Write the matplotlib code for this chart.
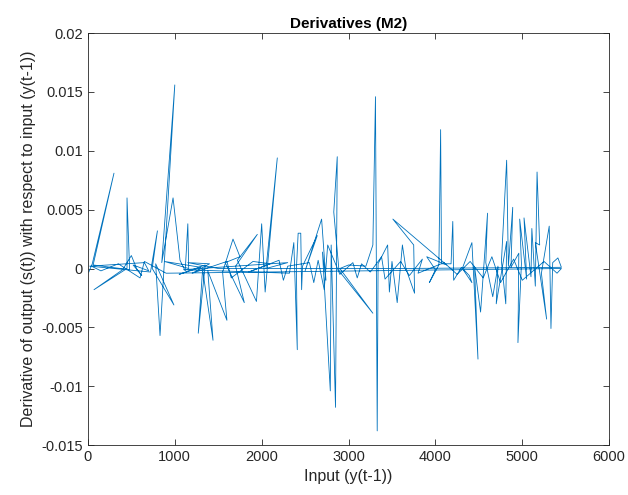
import matplotlib
matplotlib.use("Agg")
import matplotlib.pyplot as plt
from matplotlib.ticker import FormatStrFormatter

plt.rcParams['font.family'] = ['Liberation Sans', 'DejaVu Sans']
plt.rcParams['axes.unicode_minus'] = False

# values (input y(t-1), derivative)
x_input = [10, 50, 300, 60, 480, 450, 450, 70, 400, 500,
           560, 620, 520, 700, 650, 20, 720, 800, 740, 990,
           780, 830, 1000, 850, 980, 1060, 1120, 1150, 1160, 880,
           1300, 1050, 1350, 1270, 1320, 1440, 1380, 1600, 1550, 1670,
           1750, 1580, 1800, 1700, 1950, 1720, 1940, 2000, 2040, 2180,
           2050, 2300, 1100, 2320, 2370, 2410, 2400, 2420, 2450, 2460,
           2470, 2640, 2500, 2690, 2740, 2700, 2790, 2800, 2850, 2870,
           2830, 2890, 3280, 2900, 3000, 3200, 3280, 3310, 3330, 3340,
           3450, 3470, 3500, 3560, 3620, 3660, 3760, 3750, 3510, 4130,
           3900, 4000, 3930, 4040, 4060, 4070, 4180, 4200, 4210, 4300,
           4390, 4420, 4310, 4420, 4490, 4450, 4520, 4600, 4580, 4660,
           4720, 4700, 4820, 4810, 4760, 4820, 4840, 4890, 4870, 4960,
           4950, 4990, 4970, 5050, 5020, 5100, 5110, 5150, 5170, 5200,
           5150, 5280, 5220, 5310, 5330, 5350, 5410, 5450, 3600, 1500,
           1150, 1400, 1200, 1600, 1650, 1900, 2100, 1850, 2200, 2250,
           2300, 2550, 2600, 2650, 2720, 2760, 2900, 3050, 3100, 3150,
           3250, 3380, 3420, 3600, 3700, 3850, 3800, 4100, 4250, 4400,
           4550, 4650, 4750, 4900, 5000, 5250, 5400, 5450, 900, 650,
           600, 350, 150, 40]

deriv = [-0.0003, 0.0004, 0.0081, 0.0003, -0.0001, 0.0060, 0.0000, -0.0018, -0.0001, 0.0011,
         0.0000, -0.0006, 0.0003, -0.0002, 0.0005, 0.0002, -0.0003, 0.0032, 0.0000, -0.0031,
         0.0004, -0.0057, 0.0156, 0.0005, 0.0060, 0.0007, -0.0002, 0.0038, 0.0000, 0.0006,
         0.0001, -0.0005, 0.0003, -0.0055, -0.0001, -0.0061, -0.0002, -0.0044, -0.0003, 0.0025,
         0.0010, 0.0005, -0.0029, 0.0002, 0.0029, 0.0007, -0.0028, 0.0038, -0.0020, 0.0094,
         0.0000, 0.0005, -0.0001, -0.0004, 0.0022, -0.0069, 0.0000, 0.0030, 0.0030, -0.0018,
         0.0002, 0.0028, -0.0002, 0.0042, -0.0010, 0.0014, -0.0104, 0.0020, -0.0118, 0.0095,
         0.0048, -0.0002, -0.0038, 0.0000, 0.0003, 0.0002, 0.0020, 0.0146, -0.0138, 0.0004,
         0.0020, -0.0020, 0.0006, -0.0029, 0.0020, 0.0000, -0.0021, 0.0020, 0.0042, 0.0003,
         0.0010, -0.0001, -0.0012, 0.0003, 0.0118, 0.0004, 0.0004, 0.0040, -0.0010, 0.0001,
         -0.0006, -0.0012, 0.0000, 0.0022, -0.0077, 0.0002, -0.0037, 0.0047, 0.0005, -0.0024,
         0.0002, -0.0030, 0.0023, -0.0030, 0.0006, 0.0092, 0.0002, 0.0052, 0.0001, 0.0013,
         -0.0063, 0.0004, 0.0042, -0.0009, 0.0043, -0.0007, 0.0034, -0.0015, 0.0082, 0.0020,
         0.0022, -0.0043, -0.0004, 0.0036, -0.0051, 0.0005, 0.0009, 0.0001, 0.0000, 0.0000,
         0.0005, 0.0004, -0.0004, 0.0006, -0.0008, 0.0006, 0.0004, -0.0003, 0.0007, -0.0010,
         0.0002, 0.0005, -0.0012, 0.0007, -0.0018, 0.0020, -0.0005, 0.0005, -0.0008, 0.0004,
         -0.0003, 0.0010, -0.0009, 0.0006, -0.0006, 0.0008, -0.0004, 0.0005, -0.0005, 0.0006,
         -0.0008, 0.0010, -0.0012, 0.0008, -0.0010, 0.0006, -0.0004, 0.0000, -0.0004, 0.0006,
         -0.0008, 0.0004, -0.0002, 0.0002]

xticks = [0, 1000, 2000, 3000, 4000, 5000, 6000]
yticks = [-0.015, -0.01, -0.005, 0, 0.005, 0.01, 0.015, 0.02]

fig = plt.figure(figsize=(6.28, 4.95), dpi=100)
ax = fig.add_axes([0.140, 0.101, 0.830, 0.832])
ax.plot(x_input, deriv, color='#0072BD', linewidth=0.6)

ax.set_xlim(0, 6000)
ax.set_ylim(-0.015, 0.02)
ax.set_xticks(xticks)
ax.set_yticks(yticks)
ax.yaxis.set_major_formatter(FormatStrFormatter('%g'))
ax.tick_params(direction='in', top=True, right=True, labelsize=10.5,
               colors='#262626', length=4, width=0.6)
for s in ax.spines.values():
    s.set_color('#262626')
    s.set_linewidth(0.6)

ax.set_title('Derivatives (M2)', fontsize=11, fontweight='bold', pad=4)
ax.set_xlabel('Input (y(t-1))', fontsize=11.5, color='#262626')
ax.set_ylabel('Derivative of output (s(t)) with respect to input (y(t-1))',
              fontsize=11.5, color='#262626')

fig.savefig('out.png', dpi=100)
